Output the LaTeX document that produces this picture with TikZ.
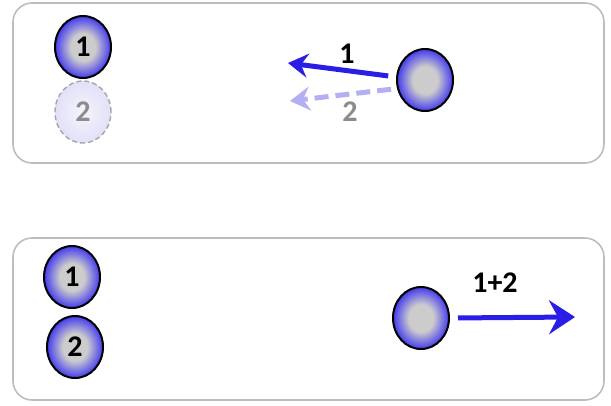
\documentclass[tikz,border=0pt]{standalone}
\usepackage{fontspec}
\setsansfont{Carlito}
\usepackage{xcolor}
\definecolor{ballblue}{HTML}{3A30F0}
\definecolor{ballcore}{HTML}{CCCCCC}
\definecolor{pushblue}{HTML}{2A1EE6}
\definecolor{fadeblue}{HTML}{B4AEF2}
\definecolor{fadefill}{HTML}{E2E0F8}
\definecolor{panelgray}{HTML}{BDBDBD}
\usepackage{tikz}
\usetikzlibrary{arrows.meta, shapes.geometric, positioning}

\pgfdeclareradialshading{ballshade}{\pgfpoint{0bp}{0bp}}{%
  color(0bp)=(ballcore); color(11bp)=(ballcore);
  color(26bp)=(ballblue); color(50bp)=(ballblue)}

\begin{document}
\begin{tikzpicture}[x=1pt, y=-1pt, font=\sffamily\bfseries\fontsize{30}{34}\selectfont,
    panel/.style={draw=panelgray, line width=1.6pt, rounded corners=19pt},
    ball/.style={ellipse, draw=black, line width=2pt, shading=ballshade,
      minimum width=56pt, minimum height=62pt, inner sep=0pt},
    ghost/.style={ellipse, draw=gray!70, dash pattern=on 5pt off 3pt, line width=1.4pt,
      inner color=fadefill!35, outer color=fadefill,
      text=gray!90, minimum width=56pt, minimum height=62pt, inner sep=0pt},
    push/.style={pushblue, line width=5pt, -{Stealth[length=20pt, width=24pt, inset=7pt]}},
    fadepush/.style={fadeblue, line width=5pt, dash pattern=on 14pt off 7pt,
      -{Stealth[length=20pt, width=24pt, inset=7pt]}}]
  \useasboundingbox (0,0) rectangle (611,405);

  % before
  \draw[panel] (13,3) rectangle (604,163);
  \node[ball]  (oneT) at (83,47)  {1};
  \node[ghost] (twoT) at (83,112) {2};
  \node[ball]  (hitT) at (425,80) {};
  \coordinate (tipA) at (288,63);
  \coordinate (tipB) at (290,101);
  \draw[push] (hitT.174) [shorten <=8pt] -- (tipA);
  \draw[fadepush] (hitT.197) [shorten <=6pt] -- (tipB);
  \node (labA) at (347,54)  {1};
  \node[gray!90] (labB) at (350,112) {2};

  % after
  \draw[panel] (13,238) rectangle (604,400);
  \node[ball] (oneB) at (72,277) {1};
  \node[ball] (twoB) at (75,347) {2};
  \node[ball] (hitB) at (421,318) {};
  \coordinate (tipC) at (575,317);
  \draw[pushblue, line width=5pt, -{Stealth[length=26pt, width=34pt, inset=9pt]}]
    (hitB.east) [shorten <=8pt] -- (tipC);
  \node (labC) at (495,283) {1+2};
\end{tikzpicture}
\end{document}
